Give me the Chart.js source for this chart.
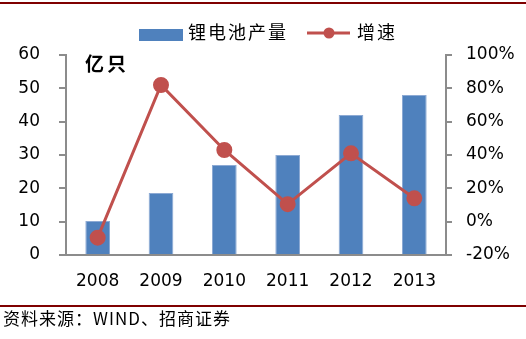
<!DOCTYPE html>
<html>
<head>
<meta charset="utf-8">
<script src="https://cdn.jsdelivr.net/npm/chart.js@4.4.0/dist/chart.umd.min.js"></script>
<style>
html, body { margin: 0; padding: 0; background: #fff; }
#wrap { width: 526px; height: 339px; position: relative; }
</style>
</head>
<body>
<div id="wrap"><canvas id="chart" width="526" height="339"></canvas></div>
<script>
var years = ['2008', '2009', '2010', '2011', '2012', '2013'];
var output = [10.2, 18.6, 27, 30, 42, 48];       // 锂电池产量, 亿只
var growth = [-9.6, 82, 43, 10.5, 41, 14];       // 增速, %
var seriesNames = ['锂电池产量', '增速'];
var unitLabel = '亿只';
var sourceText = '资料来源：WIND、招商证券';

var BLUE = '#4F81BD';
var RED = '#C0504D';
var AXIS = '#8C8C8C';
var TICK_FONT = { family: 'DejaVu Sans', size: 17 };
var CJK = '"Noto Sans CJK SC", sans-serif';

// frame lines, unit label, legend and source note
var decor = {
  id: 'decor',
  afterDraw: function (chart) {
    var ctx = chart.ctx;
    ctx.save();
    ctx.fillStyle = '#7F0000';
    ctx.fillRect(0, 2, 526, 2);
    ctx.fillRect(0, 305, 526, 2);

    ctx.fillStyle = '#000';
    ctx.textBaseline = 'middle';
    ctx.textAlign = 'left';
    ctx.font = 'bold 19px ' + CJK;
    ctx.letterSpacing = '3px';
    ctx.fillText(unitLabel, 85, 64);

    ctx.font = '18px ' + CJK;
    ctx.letterSpacing = '2px';
    ctx.fillStyle = BLUE;
    ctx.fillRect(139, 29, 44, 12);
    ctx.fillStyle = '#000';
    ctx.fillText(seriesNames[0], 188, 32);

    ctx.strokeStyle = RED;
    ctx.lineWidth = 3;
    ctx.beginPath();
    ctx.moveTo(307, 33);
    ctx.lineTo(350, 33);
    ctx.stroke();
    ctx.fillStyle = RED;
    ctx.beginPath();
    ctx.arc(329, 33, 5.5, 0, Math.PI * 2);
    ctx.fill();
    ctx.fillStyle = '#000';
    ctx.fillText(seriesNames[1], 357, 32);

    ctx.font = '17px ' + CJK;
    ctx.letterSpacing = '1px';
    ctx.fillText(sourceText, 3, 319);
    ctx.restore();
  }
};

new Chart(document.getElementById('chart'), {
  data: {
    labels: years,
    datasets: [
      {
        type: 'line',
        label: seriesNames[1],
        data: growth,
        yAxisID: 'y1',
        borderColor: RED,
        backgroundColor: RED,
        borderWidth: 3,
        pointRadius: 6.5,
        pointHoverRadius: 6.5,
        tension: 0,
        order: 0
      },
      {
        type: 'bar',
        label: seriesNames[0],
        data: output,
        yAxisID: 'y',
        backgroundColor: BLUE,
        borderColor: '#8DAAD4',
        borderWidth: 1,
        barPercentage: 0.39,
        categoryPercentage: 1,
        order: 1
      }
    ]
  },
  options: {
    responsive: false,
    animation: false,
    devicePixelRatio: 1,
    layout: { padding: { top: 55, left: 0, right: 0, bottom: 0 } },
    plugins: {
      legend: { display: false },
      tooltip: { enabled: false }
    },
    scales: {
      x: {
        grid: { display: false },
        border: { color: AXIS, width: 2 },
        ticks: { color: '#000', font: TICK_FONT, padding: 8 },
        afterFit: function (s) { s.height = 84; }
      },
      y: {
        position: 'left',
        min: 0,
        max: 60,
        ticks: { stepSize: 10, color: '#000', font: TICK_FONT, padding: 19 },
        grid: { drawOnChartArea: false, color: AXIS, lineWidth: 2, tickLength: 7 },
        border: { color: AXIS, width: 2 },
        afterFit: function (s) { s.width = 66; }
      },
      y1: {
        position: 'right',
        min: -20,
        max: 100,
        ticks: {
          stepSize: 20, color: '#000', font: TICK_FONT, padding: 14,
          callback: function (v) { return v + '%'; }
        },
        grid: { drawOnChartArea: false, color: AXIS, lineWidth: 2, tickLength: 6 },
        border: { color: AXIS, width: 2 },
        afterFit: function (s) { s.width = 80; }
      }
    }
  },
  plugins: [decor]
});
</script>
</body>
</html>
